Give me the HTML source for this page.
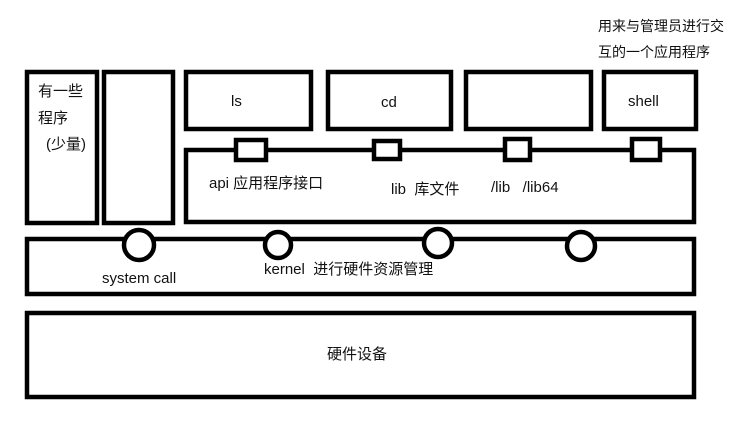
<!DOCTYPE html>
<html><head><meta charset="utf-8"><style>
body{margin:0;background:#fff;}
text{font-family:"Liberation Sans","Microsoft YaHei","Noto Sans CJK SC",sans-serif;font-size:15px;fill:#111;white-space:pre;}
</style></head><body>
<svg width="749" height="430" xmlns="http://www.w3.org/2000/svg">
<g fill="none" stroke="#000" stroke-width="4.5">
<rect x="27" y="72" width="70" height="151"/>
<rect x="104" y="72" width="69" height="151"/>
<rect x="186" y="72" width="125" height="57"/>
<rect x="328" y="72" width="123" height="57"/>
<rect x="466" y="72" width="125" height="57"/>
<rect x="604" y="72" width="92" height="57"/>
<rect x="186" y="150" width="508" height="72"/>
<rect x="27" y="239" width="667" height="55"/>
<rect x="27" y="313" width="667" height="84"/>
</g>
<g fill="#fff" stroke="#000" stroke-width="4.5">
<rect x="236" y="140" width="30" height="20"/>
<rect x="374" y="141" width="26" height="18"/>
<rect x="505" y="139" width="25" height="21"/>
<rect x="632" y="139" width="28" height="21"/>
<circle cx="139" cy="245" r="15"/>
<circle cx="278" cy="245" r="13"/>
<circle cx="438" cy="243" r="14"/>
<circle cx="581" cy="246" r="14"/>
</g>
<text x="38" y="96">有一些</text>
<text x="38" y="123">程序</text>
<text x="46" y="149">(少量)</text>
<text x="231" y="106">ls</text>
<text x="381" y="107">cd</text>
<text x="628" y="106">shell</text>
<text x="209" y="188">api 应用程序接口</text>
<text x="391" y="194">lib  库文件</text>
<text x="491" y="192">/lib   /lib64</text>
<text x="102" y="283">system call</text>
<text x="264" y="274">kernel  进行硬件资源管理</text>
<text x="327" y="359">硬件设备</text>
<text x="598" y="31" style="font-size:14px">用来与管理员进行交</text>
<text x="598" y="57" style="font-size:14px">互的一个应用程序</text>
</svg>
</body></html>
